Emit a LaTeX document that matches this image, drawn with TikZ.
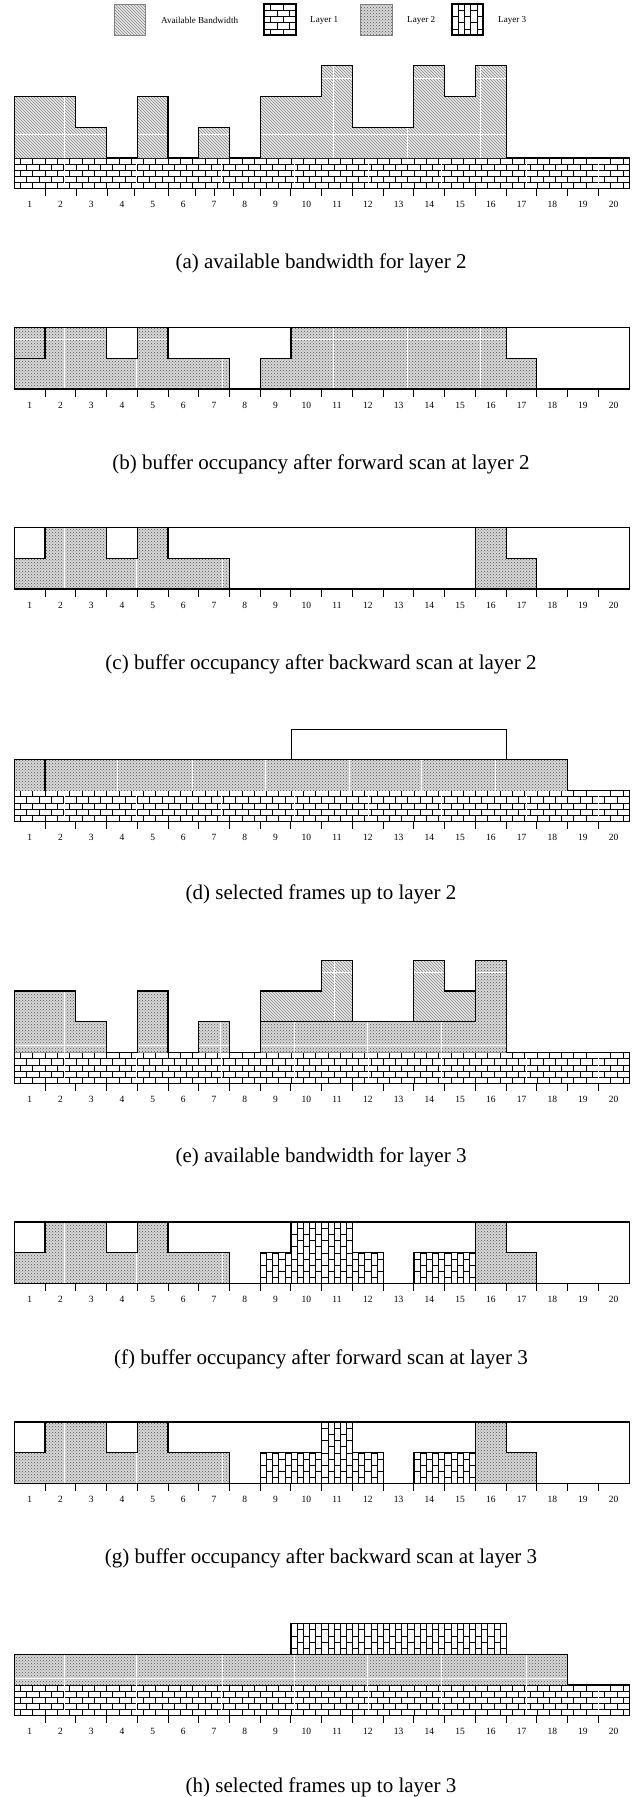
\documentclass[tikz,border=0pt]{standalone}
\usepackage{fontspec}
\setmainfont{Liberation Serif}
\usetikzlibrary{patterns}
\tikzset{
  outl/.style={line width=1.1pt, line join=miter},
  thinoutl/.style={line width=0.8pt, line join=miter},
  brk/.style={line width=0.55pt},
  seam/.style={white, line width=0.9pt},
  abfill/.style={preaction={fill=black!8}, pattern=north west lines, pattern color=black!50},
  ltwofill/.style={preaction={fill=black!15}, pattern=crosshatch dots, pattern color=black!70},
  tickmark/.style={line width=1pt},
  lbl/.style={font=\fontsize{9.5}{10}\selectfont, inner sep=0pt},
  captxt/.style={font=\fontsize{21}{24}\selectfont, inner sep=0pt},
  legtxt/.style={font=\fontsize{9.1}{10}\selectfont, inner sep=0pt, anchor=west},
}
% horizontal bricks: #1 clip path, #2 x0, #3 y0, #4 bricks per row, #5 rows
\newcommand\HBricks[5]{%
  \begin{scope}
    \clip #1;
    \foreach \r in {0,...,#5}{\draw[brk] (#2,{#3+0.2*\r}) -- ++({0.4*#4+0.4},0);}
    \foreach \r in {1,...,#5}{\foreach \c in {0,...,#4}{\draw[brk] ({#2+0.4*\c+0.2*mod(\r,2)},{#3+0.2*(\r-1)}) -- ++(0,0.2);}}
  \end{scope}}
% vertical bricks: #1 clip path, #2 x0, #3 y0, #4 columns, #5 bricks per column
\newcommand\VBricks[5]{%
  \begin{scope}
    \clip #1;
    \foreach \c in {0,...,#4}{\draw[brk] ({#2+0.2*\c},#3) -- ++(0,{0.4*#5+0.4});}
    \foreach \c in {1,...,#4}{\foreach \r in {0,...,#5}{\draw[brk] ({#2+0.2*(\c-1)},{#3+0.4*\r+0.2*mod(\c,2)}) -- ++(0.2,0);}}
  \end{scope}}
% white seams: #1 clip path, #2 x list, #3 y list
\newcommand\Seams[3]{%
  \begin{scope}
    \clip #1;
    \foreach \s in {#2}{\draw[seam] (\s,-1.2) -- (\s,3.2);}
    \foreach \s in {#3}{\draw[seam] (-0.2,\s) -- (20.2,\s);}
  \end{scope}}
\newcommand\BandSeams{%
  \begin{scope}
    \clip (0,-0.97) rectangle (20,-0.03);
    \foreach \s in {1.62,3.98,6.75,9.11,11.52,13.88,16.65,19.0}{\draw[seam] (\s,-1) -- (\s,0);}
  \end{scope}}
\newcommand\TickRow[2]{\foreach \t in {#2}{\draw[tickmark] (\t,#1) -- ++(0,-0.244);}}
\newcommand\LabelRow[2]{\foreach \n in {1,...,20}{\node[lbl] (#2\n) at ({\n-0.5},{#1-0.52}) {\n};}}

\begin{document}
\begin{tikzpicture}[x=1pt,y=-1pt]
\useasboundingbox (0,0) rectangle (640,1797);
\fill[white] (0,0) rectangle (640,1797);

% ---------- legend ----------
\begin{scope}[shift={(114,35)}, x=31.5pt, y=31pt]
  \path[abfill] (0,0) rectangle (1,1);
  \draw[gray, line width=0.8pt] (0,0) rectangle (1,1);
\end{scope}
\node[legtxt] (legab) at (161,20) {Available Bandwidth};
\begin{scope}[shift={(264,35)}, x=32pt, y=31pt]
  \HBricks{(0,0) rectangle (1,1)}{0}{0}{3}{5}
  \draw[outl] (0,0) rectangle (1,1);
\end{scope}
\node[legtxt] (legla) at (310,20) {Layer 1};
\begin{scope}[shift={(360,35)}, x=32pt, y=31pt]
  \path[ltwofill] (0,0) rectangle (1,1);
  \draw[gray, line width=0.8pt] (0,0) rectangle (1,1);
\end{scope}
\node[legtxt] (leglb) at (407,20) {Layer 2};
\begin{scope}[shift={(452,35)}, x=31pt, y=31pt]
  \VBricks{(0,0) rectangle (1,1)}{0}{0}{5}{3}
  \draw[outl] (0,0) rectangle (1,1);
\end{scope}
\node[legtxt] (leglc) at (498,20) {Layer 3};

% ---------- (a) ----------
\begin{scope}[shift={(14.3,158)}, x=30.74pt, y=30.74pt]
  \HBricks{(0,-1) rectangle (20,0)}{0}{-1}{50}{5}
  \BandSeams
  \draw[outl] (0,-1) rectangle (20,0);
  \def\pa{(0,0) -- (0,2) -- (2,2) -- (2,1) -- (3,1) -- (3,0) -- cycle
    (4,0) -- (4,2) -- (5,2) -- (5,0) -- cycle
    (6,0) -- (6,1) -- (7,1) -- (7,0) -- cycle
    (8,0) -- (8,2) -- (10,2) -- (10,3) -- (11,3) -- (11,1) -- (13,1) -- (13,3) -- (14,3) -- (14,2) -- (15,2) -- (15,3) -- (16,3) -- (16,0) -- cycle}
  \path[abfill] \pa;
  \Seams{\pa}{1.62,10.37,12.78,15.15}{0.78,2.6}
  \draw[outl] (0,0) -- (0,2) -- (2,2) -- (2,1) -- (3,1) -- (3,0)
    (4,0) -- (4,2) -- (5,2) -- (5,0)
    (6,0) -- (6,1) -- (7,1) -- (7,0)
    (8,0) -- (8,2) -- (10,2) -- (10,3) -- (11,3) -- (11,1) -- (13,1) -- (13,3) -- (14,3) -- (14,2) -- (15,2) -- (15,3) -- (16,3) -- (16,0);
  \TickRow{-1}{1.02,2.02,3.02,3.9,5.01,5.88,6.51,7.14,8,9,10,11,12,13,14,15,16,17,18,19}
  \LabelRow{-1}{la}
\end{scope}
\node[captxt] (capa) at (321,263) {(a) available bandwidth for layer 2};

% ---------- (b) ----------
\begin{scope}[shift={(14.3,389)}, x=30.74pt, y=30.74pt]
  \def\pb{(0,0) -- (0,2) -- (3,2) -- (3,1) -- (4,1) -- (4,2) -- (5,2) -- (5,1) -- (7,1) -- (7,0) -- cycle
    (8,0) -- (8,1) -- (9,1) -- (9,2) -- (16,2) -- (16,1) -- (17,1) -- (17,0) -- cycle}
  \path[ltwofill] \pb;
  \Seams{\pb}{1.62,3.96,6.76,10.37,12.78,15.15}{1.62}
  \draw[outl] (0,1) -- (1,1) -- (1,2)
    (3,2) -- (3,1) -- (4,1) -- (4,2)
    (5,2) -- (5,1) -- (7,1) -- (7,0)
    (8,0) -- (8,1) -- (9,1) -- (9,2)
    (16,2) -- (16,1) -- (17,1) -- (17,0);
  \draw[outl] (0,0) rectangle (20,2);
  \TickRow{0}{1,...,19}
  \LabelRow{0}{lb}
\end{scope}
\node[captxt] (capb) at (321,464.5) {(b) buffer occupancy after forward scan at layer 2};

% ---------- (c) ----------
\begin{scope}[shift={(14.3,589)}, x=30.74pt, y=30.74pt]
  \def\pc{(0,0) -- (0,1) -- (1,1) -- (1,2) -- (3,2) -- (3,1) -- (4,1) -- (4,2) -- (5,2) -- (5,1) -- (7,1) -- (7,0) -- cycle
    (15,0) -- (15,2) -- (16,2) -- (16,1) -- (17,1) -- (17,0) -- cycle}
  \path[ltwofill] \pc;
  \Seams{\pc}{1.62,3.96,6.76}{}
  \draw[outl] (0,1) -- (1,1) -- (1,2)
    (3,2) -- (3,1) -- (4,1) -- (4,2)
    (5,2) -- (5,1) -- (7,1) -- (7,0)
    (15,0) -- (15,2)
    (16,2) -- (16,1) -- (17,1) -- (17,0);
  \draw[outl] (0,0) rectangle (20,2);
  \TickRow{0}{1,...,19}
  \LabelRow{0}{lc}
\end{scope}
\node[captxt] (capc) at (321,664) {(c) buffer occupancy after backward scan at layer 2};

% ---------- (d) ----------
\begin{scope}[shift={(14.3,790.5)}, x=30.74pt, y=30.74pt]
  \HBricks{(0,-1) rectangle (20,0)}{0}{-1}{50}{5}
  \BandSeams
  \draw[outl] (0,-1) rectangle (20,0);
  \path[ltwofill] (0,0) rectangle (18,1);
  \Seams{(0,0) rectangle (18,1)}{3.37,5.78,8.16,10.9,13.26,15.64}{}
  \draw[outl] (0,0) -- (0,1) -- (18,1) -- (18,0) (1,0) -- (1,1);
  \draw[thinoutl] (9,1) -- (9,2) -- (16,2) -- (16,1);
  \TickRow{-1}{1,...,19}
  \LabelRow{-1}{ld}
\end{scope}
\node[captxt] (capd) at (321,894.5) {(d) selected frames up to layer 2};

% ---------- (e) ----------
\begin{scope}[shift={(14.3,1052.5)}, x=30.74pt, y=30.74pt]
  \HBricks{(0,-1) rectangle (20,0)}{0}{-1}{50}{5}
  \BandSeams
  \draw[outl] (0,-1) rectangle (20,0);
  \def\pe{(0,0) -- (0,2) -- (2,2) -- (2,1) -- (3,1) -- (3,0) -- cycle
    (4,0) -- (4,2) -- (5,2) -- (5,0) -- cycle
    (6,0) -- (6,1) -- (7,1) -- (7,0) -- cycle
    (8,0) -- (8,1) -- (15,1) -- (15,3) -- (16,3) -- (16,0) -- cycle}
  \def\pea{(8,1) -- (8,2) -- (10,2) -- (10,3) -- (11,3) -- (11,1) -- cycle
    (13,1) -- (13,3) -- (14,3) -- (14,2) -- (15,2) -- (15,1) -- cycle}
  \path[ltwofill] \pe;
  \Seams{\pe}{1.62,6.71,9.11,11.5,13.88}{0.24}
  \Seams{(15,0) rectangle (16,3)}{}{2.62}
  \path[abfill] \pea;
  \Seams{\pea}{10.4}{2.62}
  \draw[outl] (0,0) -- (0,2) -- (2,2) -- (2,1) -- (3,1) -- (3,0)
    (4,0) -- (4,2) -- (5,2) -- (5,0)
    (6,0) -- (6,1) -- (7,1) -- (7,0)
    (8,0) -- (8,2) -- (10,2) -- (10,3) -- (11,3) -- (11,1)
    (8,1) -- (15,1)
    (13,1) -- (13,3) -- (14,3) -- (14,2) -- (15,2)
    (15,1) -- (15,3) -- (16,3) -- (16,0);
  \TickRow{-1}{1,...,19}
  \LabelRow{-1}{le}
\end{scope}
\node[captxt] (cape) at (321,1157.3) {(e) available bandwidth for layer 3};

% ---------- (f) ----------
\begin{scope}[shift={(14.3,1283.5)}, x=30.74pt, y=30.74pt]
  \def\pf{(0,0) -- (0,1) -- (1,1) -- (1,2) -- (3,2) -- (3,1) -- (4,1) -- (4,2) -- (5,2) -- (5,1) -- (7,1) -- (7,0) -- cycle
    (15,0) -- (15,2) -- (16,2) -- (16,1) -- (17,1) -- (17,0) -- cycle}
  \path[ltwofill] \pf;
  \Seams{\pf}{1.62,3.96,6.76}{}
  \VBricks{(8,0) -- (8,1) -- (9,1) -- (9,2) -- (11,2) -- (11,1) -- (12,1) -- (12,0) -- cycle (13,0) -- (13,1) -- (15,1) -- (15,0) -- cycle}{8}{0}{35}{5}
  \draw[outl] (0,1) -- (1,1) -- (1,2)
    (3,2) -- (3,1) -- (4,1) -- (4,2)
    (5,2) -- (5,1) -- (7,1) -- (7,0)
    (8,0) -- (8,1) -- (9,1) -- (9,2)
    (11,2) -- (11,1) -- (12,1) -- (12,0)
    (13,0) -- (13,1) -- (15,1)
    (15,0) -- (15,2)
    (16,2) -- (16,1) -- (17,1) -- (17,0);
  \draw[outl] (0,0) rectangle (20,2);
  \TickRow{0}{1,...,19}
  \LabelRow{0}{lf}
\end{scope}
\node[captxt] (capf) at (321,1359) {(f) buffer occupancy after forward scan at layer 3};

% ---------- (g) ----------
\begin{scope}[shift={(14.3,1483.5)}, x=30.74pt, y=30.74pt]
  \def\pg{(0,0) -- (0,1) -- (1,1) -- (1,2) -- (3,2) -- (3,1) -- (4,1) -- (4,2) -- (5,2) -- (5,1) -- (7,1) -- (7,0) -- cycle
    (15,0) -- (15,2) -- (16,2) -- (16,1) -- (17,1) -- (17,0) -- cycle}
  \path[ltwofill] \pg;
  \Seams{\pg}{1.62,3.96,6.76}{}
  \VBricks{(8,0) -- (8,1) -- (10,1) -- (10,2) -- (11,2) -- (11,1) -- (12,1) -- (12,0) -- cycle (13,0) -- (13,1) -- (15,1) -- (15,0) -- cycle}{8}{0}{35}{5}
  \draw[outl] (0,1) -- (1,1) -- (1,2)
    (3,2) -- (3,1) -- (4,1) -- (4,2)
    (5,2) -- (5,1) -- (7,1) -- (7,0)
    (8,0) -- (8,1) -- (10,1) -- (10,2)
    (11,2) -- (11,1) -- (12,1) -- (12,0)
    (13,0) -- (13,1) -- (15,1)
    (15,0) -- (15,2)
    (16,2) -- (16,1) -- (17,1) -- (17,0);
  \draw[outl] (0,0) rectangle (20,2);
  \TickRow{0}{1,...,19}
  \LabelRow{0}{lg}
\end{scope}
\node[captxt] (capg) at (321,1558.7) {(g) buffer occupancy after backward scan at layer 3};

% ---------- (h) ----------
\begin{scope}[shift={(14.3,1685)}, x=30.74pt, y=30.74pt]
  \HBricks{(0,-1) rectangle (20,0)}{0}{-1}{50}{5}
  \BandSeams
  \draw[outl] (0,-1) rectangle (20,0);
  \path[ltwofill] (0,0) rectangle (18,1);
  \Seams{(0,0) rectangle (18,1)}{1.62,3.96,6.76,9.11,11.5,13.88,16.65}{0.2}
  \draw[outl] (0,0) -- (0,1) -- (18,1) -- (18,0);
  \VBricks{(9,1) rectangle (16,2)}{9}{1}{35}{3}
  \draw[outl] (9,1) -- (9,2) -- (16,2) -- (16,1) (10,1) -- (10,2);
  \TickRow{-1}{1,...,19}
  \LabelRow{-1}{lh}
\end{scope}
\node[captxt] (caph) at (321,1787.5) {(h) selected frames up to layer 3};
\end{tikzpicture}
\end{document}
